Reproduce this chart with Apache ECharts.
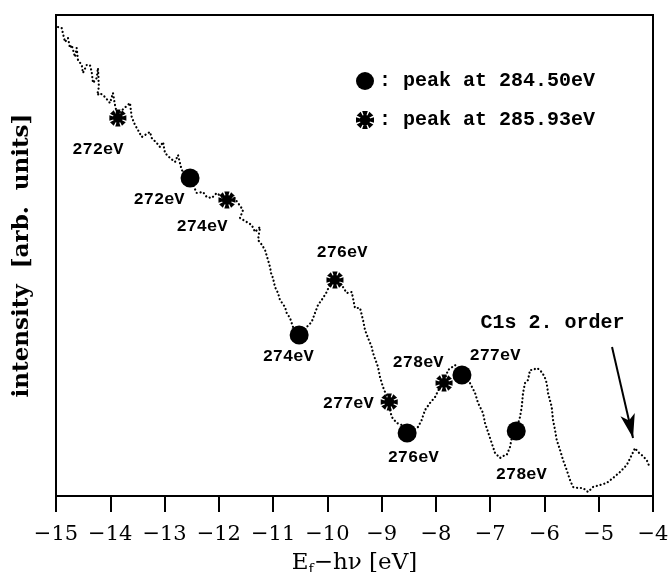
<!DOCTYPE html>
<html>
<head>
<meta charset="utf-8">
<script src="https://cdn.jsdelivr.net/npm/echarts@6/dist/echarts.min.js"></script>
<style>html,body{margin:0;padding:0;background:#fff}#c{width:668px;height:572px}</style>
</head>
<body>
<div id="c"></div>
<script>
// ---- data (x in eV, y in arbitrary units) ----
const curveX = [-14.963,-14.895,-14.865,-14.834,-14.779,-14.742,-14.711,-14.650,-14.619,-14.595,-14.526,-14.503,-14.434,-14.374,-14.342,-14.318,-14.250,-14.226,-14.210,-14.240,-14.189,-14.097,-14.005,-13.950,-13.913,-13.858,-13.821,-13.636,-13.605,-13.544,-13.489,-13.421,-13.268,-13.237,-13.144,-13.084,-13.028,-12.992,-12.899,-12.807,-12.752,-12.684,-12.531,
-12.407,-12.291,-12.223,-12.131,-12.039,-11.941,-11.849,-11.739,-11.646,-11.554,-11.610,-11.486,-11.394,-11.333,-11.241,-11.278,-11.204,-11.149,-11.094,-11.057,-11.038,-11.002,-10.965,-10.909,-10.873,-10.780,-10.749,-10.688,-10.633,-10.541,-10.381,-10.289,-10.228,-10.172,-10.080,-10.012,-9.920,-9.859,
-9.767,-9.712,-9.644,-9.551,-9.491,-9.398,-9.343,-9.306,-9.251,-9.183,-9.159,-9.067,-9.030,-8.975,-8.901,-8.814,-8.722,-8.630,-8.532,-8.422,-8.330,-8.262,-8.201,-8.109,-8.016,-7.924,-7.851,-7.777,-7.648,-7.519,-7.372,-7.279,-7.224,
-7.132,-7.095,-7.040,-6.972,-6.911,-6.819,-6.763,-6.695,-6.635,-6.603,-6.511,-6.450,-6.419,-6.395,-6.358,-6.303,-6.266,-6.211,-6.143,-6.082,-6.027,-5.990,-5.959,-5.934,-5.866,-5.842,-5.805,-5.774,-5.713,-5.658,-5.590,-5.529,-5.474,-5.381,-5.289,-5.197,-5.105,-4.976,-4.853,-4.737,-4.608,-4.484,-4.392,-4.331,-4.276,-4.208,-4.116,-4.055];
const curveY = [469,468,461,454,458,448,451,439,448,436,431,423,431,431,424,413,418,428,409,401,403,399,393,403,391,378,384,393,379,371,366,359,364,358,353,349,354,343,338,334,341,326,318,
303,304,299,298,303,299,296,300,293,286,278,274,271,264,269,256,251,246,236,229,223,218,209,203,196,189,183,178,169,163,169,174,183,191,198,204,216,219,
213,209,203,204,188,188,176,166,158,149,143,129,119,109,99,79,73,71,66,66,69,76,86,93,99,109,114,126,131,124,113,103,93,
83,73,64,53,43,38,40,41,49,58,68,79,89,103,113,116,126,126,128,126,122,118,113,103,89,76,66,56,46,36,26,16,9,8,8,4,9,11,13,18,24,31,41,48,44,41,36,28];

const peak1Name = 'peak at 284.50eV';
const peak1X = [-12.53, -10.52, -8.53, -7.52, -6.52];
const peak1Y = [318, 161, 63, 121, 65];
const peak1Labels = ['272eV', '274eV', '276eV', '277eV', '278eV'];

const peak2Name = 'peak at 285.93eV';
const peak2X = [-13.86, -11.85, -9.86, -8.86, -7.85];
const peak2Y = [378, 296, 216, 94, 113];
const peak2Labels = ['272eV', '274eV', '276eV', '277eV', '278eV'];

const annotText = 'C1s 2. order';
const annotPos = [-5.85, 173];
const arrowFrom = [-4.755, 149];
const arrowTo = [-4.368, 58];

const xMin = -15, xMax = -4, xStep = 1;
const yMin = 0, yMax = 481;
const xTitle = 'E{s|f}\u2212h\u03bd [eV]';
const yTitle = 'intensity  [arb.  units]';

// ---- styles ----
const peak1Offsets = [[-31, 22], [-11, 22], [6, 25], [33, -19], [5, 44]];
const peak2Offsets = [[-20, 32], [-25, 27], [7, -27], [-41, 2], [-26, -20]];

function asteriskPath() {
  let d = 'M-5.5 0 A5.5 5.5 0 1 1 5.5 0 A5.5 5.5 0 1 1 -5.5 0 Z ';
  const r = 10, w = 0.3;
  for (let k = 0; k < 8; k++) {
    const a = k * Math.PI / 4;
    d += 'M0 0 L' + (r * Math.cos(a - w)).toFixed(3) + ' ' + (r * Math.sin(a - w)).toFixed(3) +
         ' L' + (r * Math.cos(a + w)).toFixed(3) + ' ' + (r * Math.sin(a + w)).toFixed(3) + ' Z ';
  }
  return 'path://' + d;
}
const AST = asteriskPath();
const monoFont = 'Liberation Mono';
const serifFont = 'DejaVu Serif';

const curveData = curveX.map((x, i) => [x, curveY[i]]);
function markerData(xs, ys, labels, offs) {
  return xs.map((x, i) => ({
    name: labels[i],
    value: [x, ys[i]],
    label: { offset: offs[i] }
  }));
}
const labelStyle = {
  show: true, position: 'inside', formatter: '{b}',
  color: '#000', fontFamily: monoFont, fontWeight: 'bold', fontSize: 17
};

const chart = echarts.init(document.getElementById('c'), null, { renderer: 'canvas' });
chart.setOption({
  animation: false,
  backgroundColor: '#fff',
  grid: { left: 56, right: 15, top: 15, bottom: 76, show: true, borderColor: '#000', borderWidth: 2, containLabel: false, outerBoundsMode: 'none' },
  legend: {
    orient: 'vertical', left: 351, top: 66, itemWidth: 18, itemHeight: 18, itemGap: 19,
    formatter: ': {name}', selectedMode: false,
    textStyle: { fontFamily: monoFont, fontWeight: 'bold', fontSize: 20, color: '#000', lineHeight: 20 },
    data: [
      { name: peak1Name, icon: 'circle', itemStyle: { color: '#000', opacity: 1 } },
      { name: peak2Name, icon: AST, itemStyle: { color: '#000', opacity: 1 } }
    ]
  },
  xAxis: {
    type: 'value', min: xMin, max: xMax, interval: xStep,
    axisLine: { show: true, onZero: false, lineStyle: { color: '#000', width: 2 } },
    axisTick: { show: true, inside: false, length: 16, lineStyle: { color: '#000', width: 2 } },
    splitLine: { show: false },
    axisLabel: {
      margin: 28, color: '#000', fontFamily: serifFont, fontSize: 21,
      formatter: v => String(v).replace('-', '\u2212')
    },
    name: xTitle,
    nameLocation: 'middle', nameGap: 53,
    nameTextStyle: {
      color: '#000', fontFamily: serifFont, fontSize: 23,
      rich: { s: { fontFamily: serifFont, fontSize: 14, verticalAlign: 'bottom', padding: [14, 0, 0, 0] } }
    }
  },
  yAxis: {
    type: 'value', min: yMin, max: yMax,
    axisLine: { show: true, lineStyle: { color: '#000', width: 2 } },
    axisTick: { show: false }, axisLabel: { show: false }, splitLine: { show: false },
    name: yTitle, nameLocation: 'middle', nameGap: 22, nameRotate: 90,
    nameTextStyle: { color: '#000', fontFamily: serifFont, fontWeight: 'bold', fontSize: 23 }
  },
  series: [
    {
      type: 'line', name: 'spectrum', data: curveData, symbol: 'none', silent: true,
      lineStyle: { color: '#000', width: 2.2, type: [0.1, 3.8], cap: 'round' },
      markLine: {
        silent: true, symbol: ['none', 'arrow'], symbolSize: [11, 24],
        label: { show: false },
        lineStyle: { color: '#000', width: 2, type: 'solid' },
        data: [[{ coord: arrowFrom }, { coord: arrowTo }]]
      },
      markPoint: {
        silent: true, symbol: 'circle', symbolSize: 1,
        itemStyle: { color: 'rgba(0,0,0,0)' },
        label: { show: true, position: 'inside', color: '#000', fontFamily: monoFont, fontWeight: 'bold', fontSize: 20, formatter: annotText },
        data: [{ coord: annotPos }]
      }
    },
    {
      type: 'scatter', name: peak1Name, symbol: 'circle', symbolSize: 19,
      itemStyle: { color: '#000', opacity: 1 }, label: labelStyle,
      data: markerData(peak1X, peak1Y, peak1Labels, peak1Offsets), z: 5
    },
    {
      type: 'scatter', name: peak2Name, symbol: AST, symbolSize: 17,
      itemStyle: { color: '#000', opacity: 1 }, label: labelStyle,
      data: markerData(peak2X, peak2Y, peak2Labels, peak2Offsets), z: 5
    }
  ]
});
</script>
</body>
</html>
